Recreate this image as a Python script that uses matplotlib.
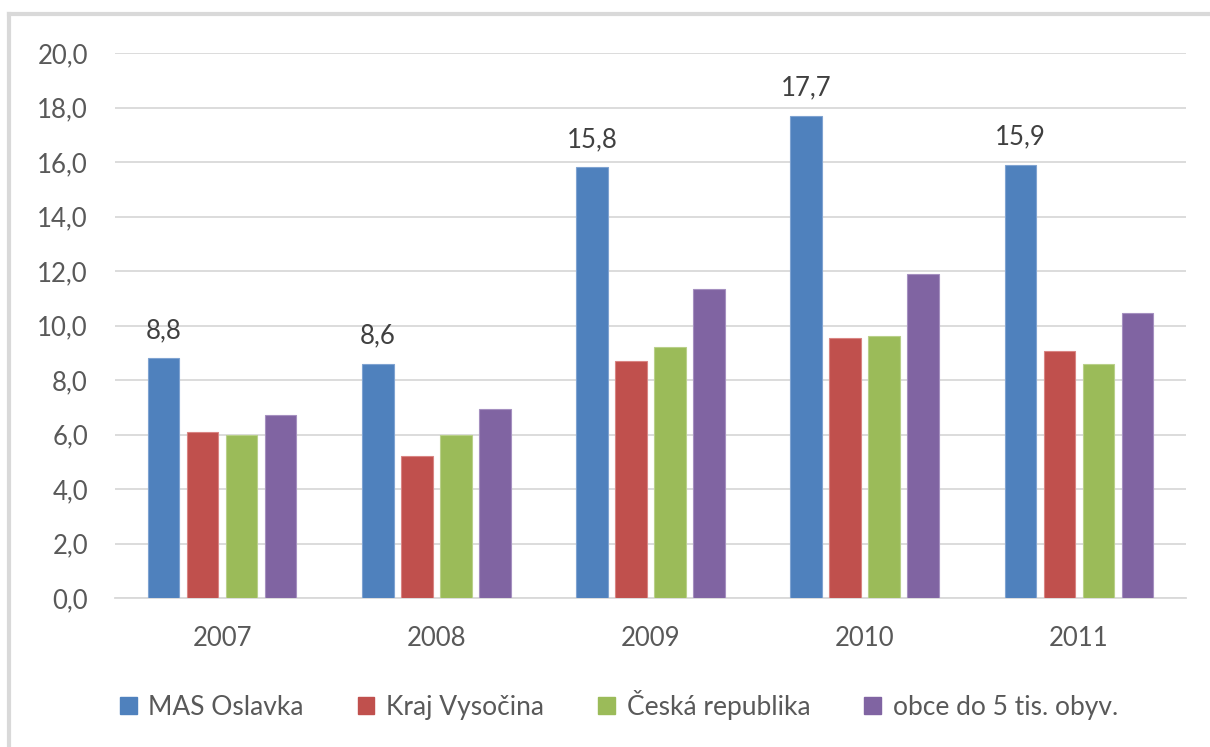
import matplotlib.pyplot as plt
from matplotlib.lines import Line2D
from matplotlib.patches import Patch
import numpy as np

years = ["2007", "2008", "2009", "2010", "2011"]
series_names = ["MAS Oslavka", "Kraj Vysočina", "Česká republika", "obce do 5 tis. obyv."]
mas_oslavka = [8.8, 8.6, 15.8, 17.7, 15.9]
kraj_vysocina = [6.1, 5.2, 8.7, 9.55, 9.05]
ceska_republika = [6.0, 6.0, 9.2, 9.6, 8.6]
obce_do_5tis = [6.7, 6.95, 11.35, 11.9, 10.45]
colors = ["#4F81BD", "#C0504D", "#9BBB59", "#8064A2"]
edge_colors = ["#7FA3D1", "#D98583", "#B9D08A", "#A590C0"]

plt.rcParams["font.family"] = ["Lato", "DejaVu Sans"]

W, H = 1210, 747
fig = plt.figure(figsize=(W / 100, H / 100), dpi=100)
ax = fig.add_axes([115 / W, (H - 598) / H, (1186 - 115) / W, (598 - 53) / H])

x = np.arange(len(years))
all_series = [mas_oslavka, kraj_vysocina, ceska_republika, obce_do_5tis]
step = 0.182
width = 0.147
for i, vals in enumerate(all_series):
    ax.bar(x + (i - 1.5) * step, vals, width, color=colors[i],
           edgecolor=edge_colors[i], linewidth=0.8, zorder=3)

# popisky jen pro MAS Oslavka
for xi, v in zip(x, mas_oslavka):
    ax.annotate(f"{v:.1f}".replace(".", ","), (xi - 1.5 * step, v),
                xytext=(0, 14.5), textcoords="offset points",
                ha="center", va="baseline", fontsize=18.5, color="#404040")

ax.set_xlim(-0.5, len(years) - 0.5)
ax.set_ylim(0, 20)
ax.set_yticks(np.arange(0, 21, 2))
ax.set_yticklabels([f"{t:.1f}".replace(".", ",") for t in np.arange(0, 21, 2)])
ax.set_xticks(x)
ax.set_xticklabels(years)
ax.tick_params(axis="y", length=0, pad=19.5, labelsize=18.5, labelcolor="#595959")
ax.tick_params(axis="x", length=0, pad=20, labelsize=18.5, labelcolor="#595959")
ax.grid(axis="y", color="#D9D9D9", linewidth=1.3, zorder=0)
for s in ["top", "right", "left"]:
    ax.spines[s].set_visible(False)
ax.spines["bottom"].set_color("#D9D9D9")
ax.spines["bottom"].set_linewidth(1.3)

handles = [Patch(facecolor=c, edgecolor=c) for c in colors]
fig.legend(handles, series_names, loc="center", bbox_to_anchor=(0.5116, (H - 705) / H),
           ncol=4, frameon=False, fontsize=19, labelcolor="#595959",
           handlelength=0.62, handleheight=0.62, handletextpad=0.45, columnspacing=2.05)

# ramecek grafu
fig.add_artist(Line2D([9 / W, 9 / W], [0, (H - 14) / H], color="#D9D9D9", linewidth=3))
fig.add_artist(Line2D([9 / W, 1], [(H - 14) / H, (H - 14) / H], color="#D9D9D9", linewidth=3))

plt.savefig("out.png", dpi=100)
plt.close()
